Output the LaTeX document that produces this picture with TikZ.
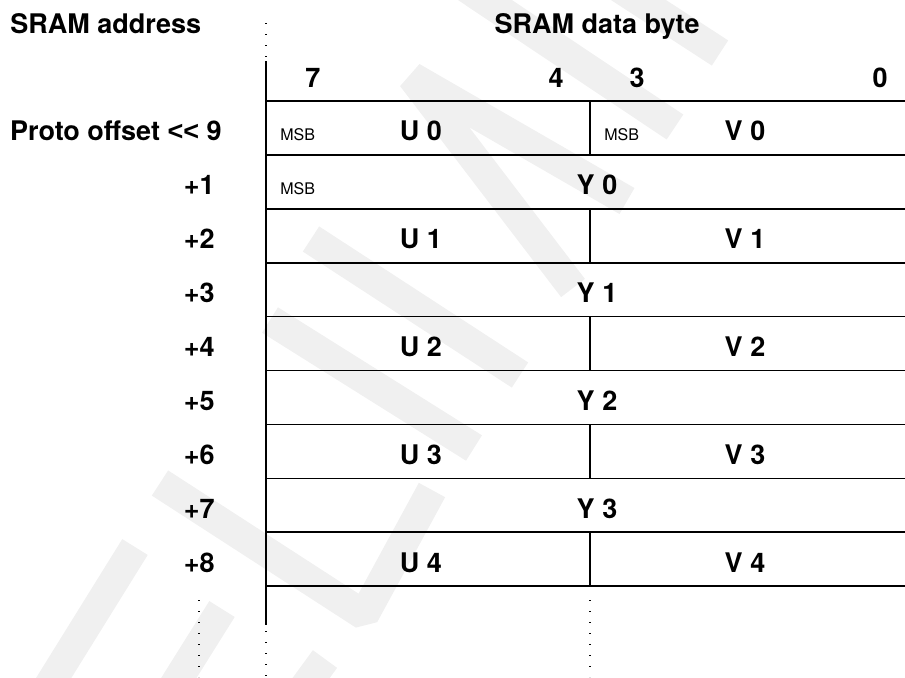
\documentclass[tikz,border=0pt]{standalone}
\usepackage{fontspec}
\setmainfont{TeX Gyre Heros}
\newfontfamily\ltfont{Liberation Sans}
\tikzset{
  celltext/.style={font=\fontsize{13.5}{16}\selectfont\bfseries, inner sep=0pt},
  msbtext/.style={font=\fontsize{8}{10}\selectfont, inner sep=0pt, anchor=base west},
  rowline/.style={line width=0.9pt},
  colline/.style={line width=0.6pt},
  dotline/.style={line width=0.7pt, dash pattern=on 0.7pt off 4.8pt},
  wmark/.style={line width=15pt, black!6, line join=bevel}
}

\begin{document}
\begin{tikzpicture}[x=0.5pt, y=-0.5pt]
  \useasboundingbox (0,0) rectangle (905,677);

  \draw[wmark] (440,-30) -- (675,127);
  \draw[wmark] (600,-25) -- (720,53);
  \draw[wmark] (627,201) -- (412,77) -- (573,288);
  \draw[wmark] (311,239) -- (520,375);
  \draw[wmark] (270,320) -- (474,448);
  \draw[wmark] (160,483) -- (364,615) -- (432,490);
  \draw[wmark] (40,700) -- (135,547);
  \draw[wmark] (165,700) -- (222,609);
  \draw[wmark] (295,700) -- (325,659);

  \node[celltext, anchor=base west] (addr) at (10,33) {SRAM address};
  \node[celltext, anchor=base] (data) at (597,33) {SRAM data byte};
  \node[celltext, anchor=base] (b7) at (313,87) {7};
  \node[celltext, anchor=base] (b4) at (556,87) {4};
  \node[celltext, anchor=base] (b3) at (637,87) {3};
  \node[celltext, anchor=base] (b0) at (880,87) {0};

  \node[celltext, anchor=base east] (P) at (222,140.7) {Proto offset {\ltfont\hbox{<}\hbox{<}} 9};
  \node[celltext, anchor=base east] (A1) at (215,194.6) {+1};
  \node[celltext, anchor=base east] (A2) at (215,248.6) {+2};
  \node[celltext, anchor=base east] (A3) at (215,302.5) {+3};
  \node[celltext, anchor=base east] (A4) at (215,356.5) {+4};
  \node[celltext, anchor=base east] (A5) at (215,410.4) {+5};
  \node[celltext, anchor=base east] (A6) at (215,464.4) {+6};
  \node[celltext, anchor=base east] (A7) at (215,518.3) {+7};
  \node[celltext, anchor=base east] (A8) at (215,572.3) {+8};

  \node[msbtext] (mU0) at (280,140.7) {MSB};
  \node[msbtext] (mV0) at (604,140.7) {MSB};
  \node[msbtext] (mY0) at (280,194.6) {MSB};

  \node[celltext, anchor=base] (U0) at (421,140.7) {U 0};
  \node[celltext, anchor=base] (V0) at (745,140.7) {V 0};
  \node[celltext, anchor=base] (Y0) at (597,194.6) {Y 0};
  \node[celltext, anchor=base] (U1) at (421,248.6) {U 1};
  \node[celltext, anchor=base] (V1) at (745,248.6) {V 1};
  \node[celltext, anchor=base] (Y1) at (597,302.5) {Y 1};
  \node[celltext, anchor=base] (U2) at (421,356.5) {U 2};
  \node[celltext, anchor=base] (V2) at (745,356.5) {V 2};
  \node[celltext, anchor=base] (Y2) at (597,410.4) {Y 2};
  \node[celltext, anchor=base] (U3) at (421,464.4) {U 3};
  \node[celltext, anchor=base] (V3) at (745,464.4) {V 3};
  \node[celltext, anchor=base] (Y3) at (597,518.3) {Y 3};
  \node[celltext, anchor=base] (U4) at (421,572.3) {U 4};
  \node[celltext, anchor=base] (V4) at (745,572.3) {V 4};

  \draw[rowline] (266,100.7) -- (905,100.7);
  \draw[rowline] (266,154.7) -- (905,154.7);
  \draw[rowline] (266,208.6) -- (905,208.6);
  \draw[rowline] (266,262.6) -- (905,262.6);
  \draw[rowline] (266,316.5) -- (905,316.5);
  \draw[rowline] (266,370.5) -- (905,370.5);
  \draw[rowline] (266,424.4) -- (905,424.4);
  \draw[rowline] (266,478.4) -- (905,478.4);
  \draw[rowline] (266,532.3) -- (905,532.3);
  \draw[rowline] (266,586.3) -- (905,586.3);

  \draw[colline] (266,61) -- (266,625);
  \draw[colline] (590,100.7) -- (590,154.7);
  \draw[colline] (590,208.6) -- (590,262.6);
  \draw[colline] (590,316.5) -- (590,370.5);
  \draw[colline] (590,424.4) -- (590,478.4);
  \draw[colline] (590,532.3) -- (590,586.3);

  \draw[dotline] (266,23) -- (266,61);
  \draw[dotline] (266,631) -- (266,677);
  \draw[dotline] (199,600) -- (199,677);
  \draw[dotline] (590,600) -- (590,677);
\end{tikzpicture}
\end{document}
